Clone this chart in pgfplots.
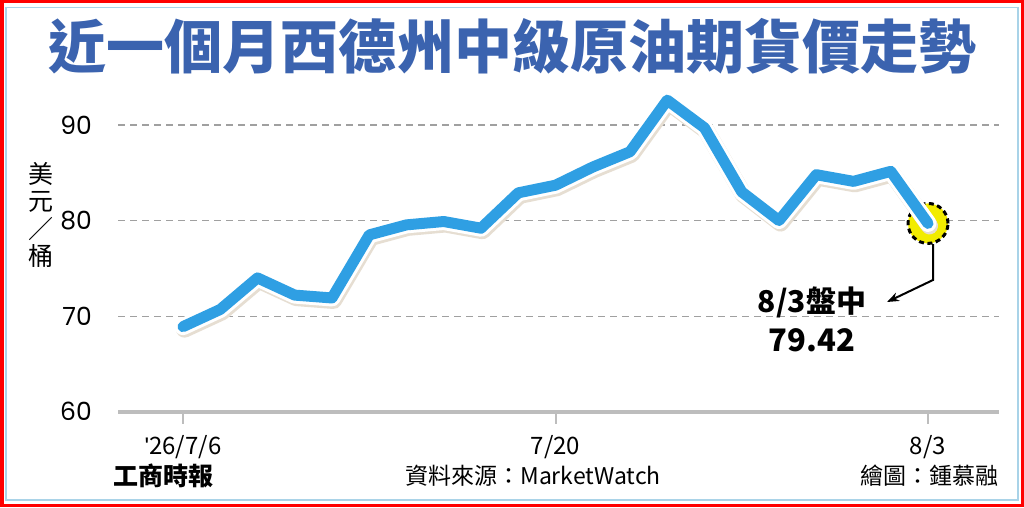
\documentclass[border=0pt]{standalone}
\usepackage{fontspec}
\setmainfont{Noto Sans CJK TC}
\newfontfamily\numfont{Poppins}
\newfontfamily\latinfont{Liberation Sans}
\usepackage{pgfplots}
\usepackage{pgfplotstable}
\pgfplotsset{compat=1.18}
\usetikzlibrary{arrows.meta}
\definecolor{titleblue}{HTML}{3B63AF}
\definecolor{lineblue}{HTML}{2F9FE3}
\definecolor{axisgray}{HTML}{BDBDBD}
\definecolor{gridgray}{HTML}{A0A0A0}
\definecolor{frameblue}{HTML}{A9D3E8}
\definecolor{markyellow}{HTML}{F2EC00}
\definecolor{shadowc}{HTML}{E6DED2}

\pgfplotstableread{
idx price
0 68.9
1 70.7
2 74.0
3 72.2
4 71.9
5 78.5
6 79.55
7 79.9
8 79.2
9 82.9
10 83.7
11 85.6
12 87.2
13 92.6
14 89.7
15 83.0
16 80.0
17 84.8
18 84.1
19 85.15
20 79.7
}\oildata

\pgfplotstableread{
idx price
20 79.7
}\lastpoint

\begin{document}
\begin{tikzpicture}[x=1pt,y=1pt]
\path[use as bounding box] (0,0) rectangle (1024,507);
\fill[white] (0,0) rectangle (1024,507);
% frame
\draw[red, line width=3.5pt] (1.75,1.75) rectangle (1022.25,505.25);
\draw[frameblue, line width=1.5pt] (6,7) rectangle (1018,499.5);
% title
\node[font=\bfseries\fontsize{58}{58}\selectfont, text=titleblue, inner sep=0pt] at (512,461) {近一個月西德州中級原油期貨價走勢};
% y label
\node[font=\fontsize{25}{27.5}\selectfont, align=center, inner sep=0pt] at (41,292) {美\\元\\／\\桶};

\begin{axis}[
  at={(118pt,95.3pt)}, anchor=south west,
  scale only axis, width=881pt, height=334.5pt,
  xmin=-1.745, xmax=21.906, ymin=60, ymax=95,
  clip=false, clip marker paths=true,
  axis x line=bottom, axis y line=left,
  y axis line style={draw=none},
  x axis line style={line width=4pt, axisgray, -},
  xtick={0,10,20}, xticklabels={{\latinfont\char"27}26/7/6,7/20,8/3},
  ytick={60,70,80,90}, yticklabels={60,70,80,90},
  tick align=outside,
  major tick length=12pt,
  xtick style={line width=2pt, axisgray},
  ytick style={draw=none},
  ymajorgrids,
  major grid style={gridgray, line width=1.2pt, dash pattern=on 7pt off 5pt},
  yticklabel style={font=\numfont\fontsize{25}{25}\selectfont, anchor=east, inner sep=0pt, xshift=-14pt},
  xticklabel style={font=\fontsize{24}{24}\selectfont, anchor=north, inner sep=0pt, yshift=-12pt},
]
\addplot[only marks, mark=*, mark size=20pt, mark options={fill=markyellow, draw=black, line width=3pt, dash pattern=on 5pt off 3.5pt}] table[x=idx, y=price] {\lastpoint};
\addplot[shadowc, line width=17pt, line join=round, line cap=round, transform canvas={xshift=1.5pt, yshift=-2.5pt}] table[x=idx, y=price] {\oildata};
\addplot[white, line width=17pt, line join=round, line cap=round] table[x=idx, y=price] {\oildata};
\addplot[lineblue, line width=11pt, line join=round, line cap=round] table[x=idx, y=price] {\oildata};
\end{axis}

% annotation
\draw[black, line width=2pt, -{Stealth[length=12pt, width=9pt]}] (933,263) -- (933,227) -- (887,205);
\node[font=\bfseries\fontsize{30}{30}\selectfont, inner sep=0pt] at (812,205) {8/3盤中};
\node[font=\bfseries\fontsize{31}{31}\selectfont, inner sep=0pt] at (812,167) {79.42};

% footer
\node[font=\bfseries\fontsize{25}{25}\selectfont, inner sep=0pt] at (163,31) {工商時報};
\node[font=\fontsize{23}{23}\selectfont, inner sep=0pt] at (533,31) {資料來源：MarketWatch};
\node[font=\fontsize{23}{23}\selectfont, inner sep=0pt, anchor=east] at (999,31) {繪圖：鍾慕融};
\end{tikzpicture}
\end{document}
